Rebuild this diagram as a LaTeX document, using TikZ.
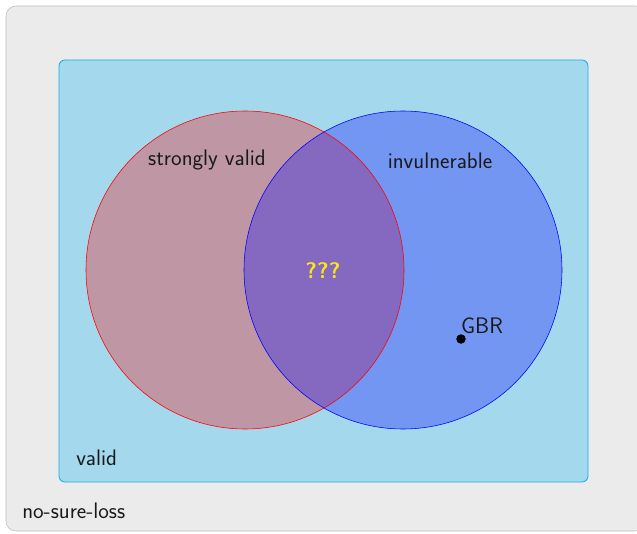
\documentclass[tikz,border=0pt]{standalone}
\usepackage{fontspec}
\usepackage{tikz}

\definecolor{bggray}{RGB}{235,235,235}
\definecolor{bgedge}{RGB}{190,190,190}
\definecolor{validfill}{RGB}{164,216,236}
\definecolor{validedge}{RGB}{20,175,235}
\definecolor{qyellow}{RGB}{250,230,20}

\begin{document}
\begin{tikzpicture}[
    lbl/.style={font=\sffamily\fontsize{16}{19}\selectfont, text=black!90, inner sep=0pt}
]
\useasboundingbox (0,0) rectangle (15.925,13.325);
\begin{scope}
\clip (0,0) rectangle (15.925,13.325);
\draw[bgedge, fill=bggray, rounded corners=0.25cm] (0.15,0.05) rectangle (16.125,13.175);
\end{scope}
\draw[validedge, fill=validfill, semithick, rounded corners=0.15cm] (1.475,1.275) rectangle (14.7,11.825);
\fill[red, fill opacity=0.3] (6.125,6.575) circle[radius=3.975];
\fill[blue, fill opacity=0.3] (10.075,6.575) circle[radius=3.975];
\draw[red] (6.125,6.575) circle[radius=3.975];
\draw[blue] (10.075,6.575) circle[radius=3.975];
\node[lbl] (strong) at (5.175,9.325) {strongly valid};
\node[lbl] (invul) at (11.0,9.3) {invulnerable};
\node[lbl, text=qyellow, font=\sffamily\bfseries\fontsize{16}{19}\selectfont] (unknown) at (8.075,6.55) {???};
\draw[fill] (11.525,4.85) circle[radius=0.11];
\node[lbl, anchor=south west] (gbr) at (11.52,4.98) {GBR};
\node[lbl, anchor=west] (valid) at (1.9,1.875) {valid};
\node[lbl, anchor=west] (nsl) at (0.55,0.55) {no-sure-loss};
\end{tikzpicture}
\end{document}
